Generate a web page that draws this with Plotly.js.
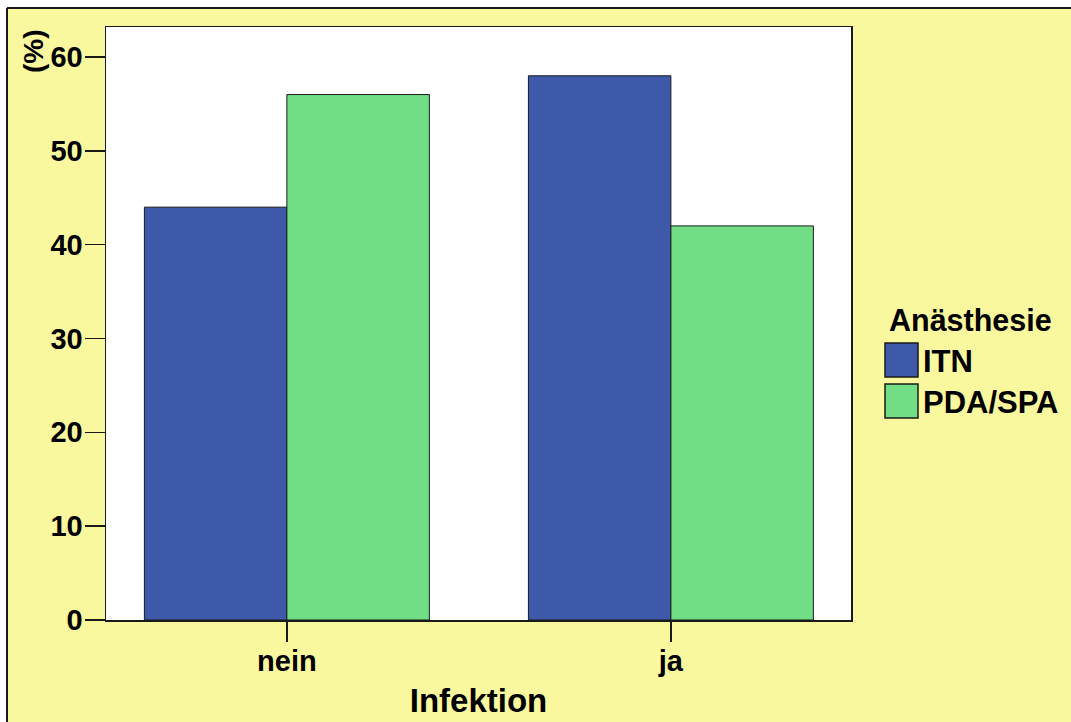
<!DOCTYPE html>
<html><head><meta charset="utf-8">
<script src="https://cdn.plot.ly/plotly-3.0.1.min.js"></script>
<style>html,body{margin:0;padding:0;background:#fff}</style>
</head><body><div id="chart" style="width:1071px;height:722px"></div>
<script>
const categories = ["nein", "ja"];
const seriesNames = ["ITN", "PDA/SPA"];
const itnValues = [44, 58];
const pdaValues = [56, 42];
const yTicks = [0, 10, 20, 30, 40, 50, 60];
const legendTitle = "Anästhesie";
const xTitle = "Infektion";
const yTitle = "(%)";
const colors = ["#3F59AA", "#71DE86"];

const W = 1071, H = 722;
const L = 106, R = 851, T = 27, B = 620;
const pw = R - L, ph = B - T;
const px = x => (x - L) / pw;
const py = y => (B - y) / ph;

const FONT = "Liberation Sans, Arial, sans-serif";
const yellow = "#FAF89F";
const dark = "#1a1a1a";

const traces = [itnValues, pdaValues].map((vals, i) => ({
  type: "bar", x: categories, y: vals, name: seriesNames[i],
  marker: {color: colors[i], line: {color: dark, width: 1}},
  hoverinfo: "x+y+name"
}));

const shapes = [
  {type:"rect", xref:"paper", yref:"paper", x0:px(0), x1:px(W), y0:py(8), y1:py(0), fillcolor:"#fff", line:{width:0}, layer:"above"},
  {type:"rect", xref:"paper", yref:"paper", x0:px(0), x1:px(7), y0:py(H), y1:py(0), fillcolor:"#fff", line:{width:0}, layer:"above"},
  {type:"line", xref:"paper", yref:"paper", x0:px(7), x1:px(W), y0:py(8), y1:py(8), line:{color:dark, width:2}},
  {type:"line", xref:"paper", yref:"paper", x0:px(7), x1:px(7), y0:py(8), y1:py(H), line:{color:dark, width:2}}
];
const annotations = [
  {xref:"paper", yref:"paper", x:px(34), y:py(51), text:"<b>"+yTitle+"</b>", textangle:-90, showarrow:false,
   font:{family:FONT, size:28, color:"#000"}, xanchor:"center", yanchor:"middle"},
  {xref:"paper", yref:"paper", x:px(970), y:py(320), text:"<b>"+legendTitle+"</b>", showarrow:false,
   font:{family:FONT, size:30.5, color:"#000"}, xanchor:"center", yanchor:"middle"}
];
const boxTops = [343, 384];
seriesNames.forEach((nm, i) => {
  const t = boxTops[i];
  shapes.push({type:"rect", xref:"paper", yref:"paper", x0:px(885), x1:px(918), y0:py(t+34), y1:py(t),
    fillcolor: colors[i], line:{color:dark, width:1.5}});
  annotations.push({xref:"paper", yref:"paper", x:px(921), y:py(t+18), text:"<b>"+nm+"</b>", showarrow:false,
    font:{family:FONT, size:31, color:"#000"}, xanchor:"left", yanchor:"middle"});
});

const layout = {
  width: W, height: H,
  margin: {l: L, r: W - R, t: T, b: H - B, pad: 0},
  paper_bgcolor: yellow, plot_bgcolor: "#fff",
  barmode: "group", bargap: 0.258, bargroupgap: 0,
  showlegend: false,
  font: {family: FONT, color: "#000"},
  xaxis: {
    type: "category", range: [-0.471, 1.469],
    showline: true, mirror: true, linecolor: dark, linewidth: 1.5,
    ticks: "outside", ticklen: 20, tickwidth: 1.5, tickcolor: dark,
    tickfont: {family: FONT, size: 29, weight: "bold"},
    ticklabelstandoff: -5,
    showgrid: false, zeroline: false,
    title: {text: "<b>"+xTitle+"</b>", font: {family: FONT, size: 33}, standoff: 12}
  },
  yaxis: {
    range: [0, 63.2], tickvals: yTicks, ticktext: yTicks.map(String),
    showline: true, mirror: true, linecolor: dark, linewidth: 1.5,
    ticks: "outside", ticklen: 20, tickwidth: 1.5, tickcolor: dark,
    tickfont: {family: FONT, size: 29, weight: "bold"},
    ticklabelstandoff: -4,
    showgrid: false, zeroline: false
  },
  shapes: shapes, annotations: annotations
};
Plotly.newPlot("chart", traces, layout, {displayModeBar: false, staticPlot: true});
</script></body></html>
